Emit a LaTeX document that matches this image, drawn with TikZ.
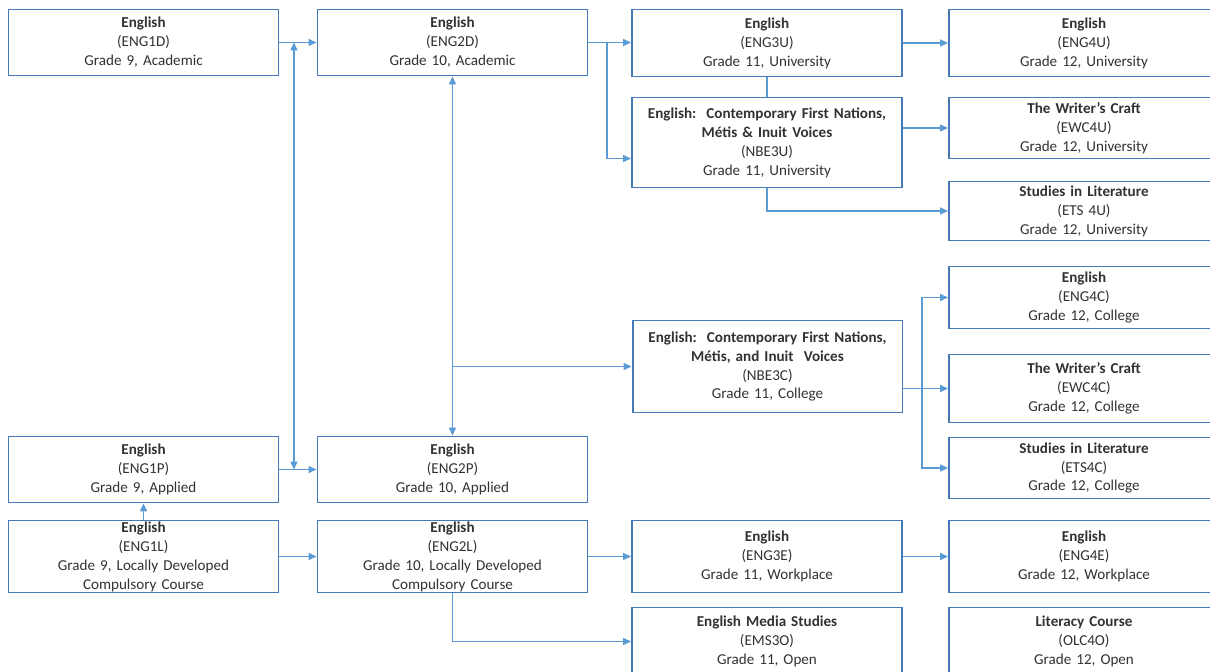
\documentclass[tikz,border=0pt]{standalone}
\usepackage{fontspec}
\setmainfont{Carlito}
\usetikzlibrary{arrows.meta}
\definecolor{boxblue}{RGB}{70,122,184}
\definecolor{lineblue}{RGB}{91,155,213}
\definecolor{textgrey}{RGB}{50,50,50}

\begin{document}
\begin{tikzpicture}[x=0.02cm, y=-0.02cm]
	\clip (0,0) rectangle (1210,672);
	\fill[white] (0,0) rectangle (1210,672);
	\tikzstyle{course}=[rectangle, draw=boxblue, line width=1.1pt, fill=white, minimum width=5.4cm, inner sep=0pt, text width=5.3cm, align=center, text=textgrey, font=\fontsize{8.6}{10.8}\selectfont]
	\tikzstyle{link}=[draw=lineblue, line width=0.8pt, -{Triangle[length=1.6mm,width=1.4mm]}]
	\tikzstyle{twoway}=[link, {Triangle[length=1.6mm,width=1.4mm]}-{Triangle[length=1.6mm,width=1.4mm]}]

	% grade 9
	\node[course, minimum height=1.32cm] (ENG1D) at (143.5,42.5) {\textbf{English}\\(ENG1D)\\Grade 9, Academic};
	\node[course, minimum height=1.32cm] (ENG1P) at (143.5,469.5) {\textbf{English}\\(ENG1P)\\Grade 9, Applied};
	\node[course, minimum height=1.44cm] (ENG1L) at (143.5,556.5) {\textbf{English}\\(ENG1L)\\Grade 9, Locally Developed\\Compulsory Course};
	% grade 10
	\node[course, minimum height=1.32cm] (ENG2D) at (452.5,42.5) {\textbf{English}\\(ENG2D)\\Grade 10, Academic};
	\node[course, minimum height=1.32cm] (ENG2P) at (452.5,469.5) {\textbf{English}\\(ENG2P)\\Grade 10, Applied};
	\node[course, minimum height=1.44cm] (ENG2L) at (452.5,556.5) {\textbf{English}\\(ENG2L)\\Grade 10, Locally Developed\\Compulsory Course};
	% grade 11
	\node[course, minimum height=1.34cm] (ENG3U) at (767,43) {\textbf{English}\\(ENG3U)\\Grade 11, University};
	\node[course, minimum height=1.8cm] (NBE3U) at (767,142.5) {\textbf{English:\ \ Contemporary First Nations,}\\\textbf{Métis \& Inuit Voices}\\(NBE3U)\\Grade 11, University};
	\node[course, minimum height=1.84cm] (NBE3C) at (767.5,366.5) {\textbf{English:\ \ Contemporary First Nations,}\\\textbf{Métis, and Inuit\ \ Voices}\\(NBE3C)\\Grade 11, College};
	\node[course, minimum height=1.44cm] (ENG3E) at (767,556.5) {\textbf{English}\\(ENG3E)\\Grade 11, Workplace};
	\node[course, minimum height=1.36cm] (EMS3O) at (767,641.5) {\textbf{English Media Studies}\\(EMS3O)\\Grade 11, Open};
	% grade 12
	\node[course, minimum height=1.34cm] (ENG4U) at (1084,43) {\textbf{English}\\(ENG4U)\\Grade 12, University};
	\node[course, minimum height=1.22cm] (EWC4U) at (1084,128) {\textbf{The Writer’s Craft}\\(EWC4U)\\Grade 12, University};
	\node[course, minimum height=1.18cm] (ETS4U) at (1084,211) {\textbf{Studies in Literature}\\(ETS 4U)\\Grade 12, University};
	\node[course, minimum height=1.24cm] (ENG4C) at (1084,297.5) {\textbf{English}\\(ENG4C)\\Grade 12, College};
	\node[course, minimum height=1.36cm] (EWC4C) at (1084,388.5) {\textbf{The Writer’s Craft}\\(EWC4C)\\Grade 12, College};
	\node[course, minimum height=1.22cm] (ETS4C) at (1084,468) {\textbf{Studies in Literature}\\(ETS4C)\\Grade 12, College};
	\node[course, minimum height=1.44cm] (ENG4E) at (1084,556.5) {\textbf{English}\\(ENG4E)\\Grade 12, Workplace};
	\node[course, minimum height=1.36cm] (OLC4O) at (1084,641.5) {\textbf{Literacy Course}\\(OLC4O)\\Grade 12, Open};

	\coordinate (up9) at (294,42.5);
	\coordinate (dn9) at (294,469.5);
	\coordinate (split10) at (607,42.5);
	\coordinate (split11) at (922,388.5);

	\begin{scope}[link]
		\draw (ENG1D.east) -- (ENG2D.west);
		\draw (ENG1P.east) -- (ENG2P.west);
		\draw (ENG1L.east) -- (ENG2L.west);
		\draw (ENG1L.north) -- (ENG1P.south);
		\draw (ENG2D.east) -- (ENG2D.east -| ENG3U.west);
		\draw (split10) |- ([yshift=-0.32cm]NBE3U.west);
		\draw (NBE3C.west -| ENG2D.south) -- (NBE3C.west);
		\draw (ENG2L.east) -- (ENG3E.west);
		\draw (ENG2L.south) |- (EMS3O.west);
		\draw (ENG3U.east) -- (ENG3U.east -| ENG4U.west);
		\draw (EWC4U.west -| NBE3U.east) -- (EWC4U.west);
		\draw (NBE3U.south) |- (ETS4U.west);
		\draw (EWC4C.west -| NBE3C.east) -- (EWC4C.west);
		\draw (split11) |- (ENG4C.west);
		\draw (split11) |- (ETS4C.west);
		\draw (ENG3E.east) -- (ENG4E.west);
	\end{scope}
	\draw[twoway] (up9) -- (dn9);
	\draw[twoway] (ENG2D.south) -- (ENG2P.north);
	\draw[link, -] (ENG3U.south) -- (NBE3U.north);
\end{tikzpicture}
\end{document}
